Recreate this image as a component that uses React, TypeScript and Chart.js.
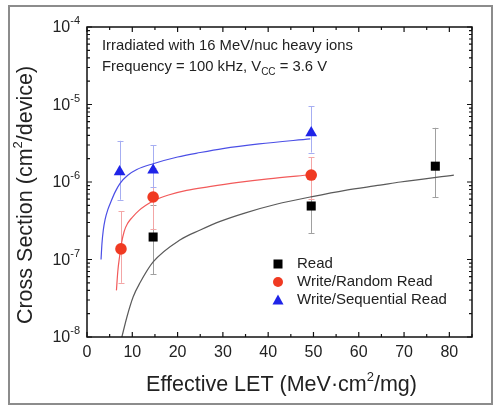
import React, { useEffect, useRef } from "react";
import { Chart, registerables } from "chart.js";

Chart.register(...registerables);

// ---- Data ----
const readX = [14.6, 49.5, 76.9];
const readY = [1.95e-7, 4.9e-7, 1.6e-6];
const readLow = [6.5e-8, 2.2e-7, 6.4e-7];
const readHigh = [5.0e-7, 1.1e-6, 5.0e-6];

const randX = [7.5, 14.6, 49.5];
const randY = [1.37e-7, 6.4e-7, 1.23e-6];
const randLow = [5.0e-8, 2.5e-7, 6.0e-7];
const randHigh = [4.2e-7, 1.5e-6, 2.1e-6];

const seqX = [7.2, 14.6, 49.5];
const seqY = [1.35e-6, 1.42e-6, 4.3e-6];
const seqLow = [5.9e-7, 8.7e-7, 2.4e-6];
const seqHigh = [3.4e-6, 3.0e-6, 9.5e-6];

// fitted curves
const seqFitX = [3.1, 3.3, 3.6, 4.0, 4.6, 5.3, 6.2, 7.3, 9, 11, 14.6, 20, 25, 30, 38, 49.3];
const seqFitY = [1.0e-7, 1.6e-7, 2.4e-7, 3.3e-7, 4.4e-7, 5.6e-7, 7.4e-7, 9.6e-7, 1.22e-6, 1.45e-6, 1.72e-6, 2.1e-6, 2.4e-6, 2.7e-6, 3.1e-6, 3.6e-6];

const randFitX = [6.5, 6.8, 7.2, 7.6, 8.2, 9.0, 10, 11.5, 13, 14.6, 18, 22, 27, 33, 40, 49.3];
const randFitY = [4.0e-8, 7.0e-8, 1.1e-7, 1.6e-7, 2.3e-7, 2.95e-7, 3.5e-7, 4.3e-7, 5.0e-7, 5.7e-7, 6.8e-7, 7.8e-7, 8.7e-7, 9.8e-7, 1.1e-6, 1.24e-6];

const readFitX = [7.7, 8.8, 10.2, 11.7, 14.6, 20.6, 25, 29.4, 35, 42, 49.3, 57, 64.7, 69.2, 81];
const readFitY = [1.0e-8, 1.8e-8, 3.3e-8, 5.0e-8, 9.3e-8, 1.8e-7, 2.4e-7, 3.1e-7, 4.0e-7, 5.2e-7, 6.4e-7, 7.8e-7, 9.1e-7, 1.0e-6, 1.23e-6];

const xTicks = [0, 10, 20, 30, 40, 50, 60, 70, 80];
const yTickExps = [-4, -5, -6, -7, -8];
const legendLabels = ["Read", "Write/Random Read", "Write/Sequential Read"];
const noteLine1 = "Irradiated with 16 MeV/nuc heavy ions";
const noteLine2a = "Frequency = 100 kHz, V";
const noteLine2sub = "CC";
const noteLine2b = " = 3.6 V";

const FONT = '"Liberation Sans", Arial, Helvetica, sans-serif';

const zip = (xs: number[], ys: number[]) => xs.map((x, i) => ({ x, y: ys[i] }));

const errorSets = [
  { xs: readX, lo: readLow, hi: readHigh, color: "#a0a0a0" },
  { xs: randX, lo: randLow, hi: randHigh, color: "#f3a6a6" },
  { xs: seqX, lo: seqLow, hi: seqHigh, color: "#a6aef2" },
];

function drawSeg(ctx: CanvasRenderingContext2D, parts: { t: string; size: number; dy: number }[], x: number, y: number, align: "left" | "center" | "right") {
  let total = 0;
  for (const p of parts) {
    ctx.font = `${p.size}px ${FONT}`;
    total += ctx.measureText(p.t).width;
  }
  let cx = align === "left" ? x : align === "center" ? x - total / 2 : x - total;
  ctx.textAlign = "left";
  for (const p of parts) {
    ctx.font = `${p.size}px ${FONT}`;
    ctx.fillText(p.t, cx, y + p.dy);
    cx += ctx.measureText(p.t).width;
  }
}

const customPlugin = {
  id: "custom",
  beforeDatasetsDraw(chart: any) {
    const ctx = chart.ctx as CanvasRenderingContext2D;
    const xs = chart.scales.x;
    const ys = chart.scales.y;
    ctx.save();
    ctx.lineWidth = 1;
    for (const s of errorSets) {
      ctx.strokeStyle = s.color;
      s.xs.forEach((xv, i) => {
        const px = Math.round(xs.getPixelForValue(xv)) + 0.5;
        const p1 = ys.getPixelForValue(s.lo[i]);
        const p2 = ys.getPixelForValue(s.hi[i]);
        ctx.beginPath();
        ctx.moveTo(px, p1);
        ctx.lineTo(px, p2);
        ctx.moveTo(px - 3, Math.round(p1) + 0.5);
        ctx.lineTo(px + 3, Math.round(p1) + 0.5);
        ctx.moveTo(px - 3, Math.round(p2) + 0.5);
        ctx.lineTo(px + 3, Math.round(p2) + 0.5);
        ctx.stroke();
      });
    }
    ctx.restore();
  },
  afterDraw(chart: any) {
    const ctx = chart.ctx as CanvasRenderingContext2D;
    const xs = chart.scales.x;
    const ys = chart.scales.y;
    const a = chart.chartArea;
    ctx.save();

    // outer grey frame
    ctx.strokeStyle = "#8c8c8c";
    ctx.lineWidth = 2;
    ctx.strokeRect(9, 6, 483, 398);

    // plot frame
    ctx.strokeStyle = "#111";
    ctx.lineWidth = 1.5;
    ctx.strokeRect(a.left, a.top, a.right - a.left, a.bottom - a.top);

    // ticks
    ctx.lineWidth = 1.2;
    ctx.beginPath();
    for (let v = 0; v <= 85; v += 5) {
      const px = xs.getPixelForValue(v);
      const len = v % 10 === 0 ? 5 : 3;
      ctx.moveTo(px, a.bottom);
      ctx.lineTo(px, a.bottom - len);
      ctx.moveTo(px, a.top);
      ctx.lineTo(px, a.top + len);
    }
    for (let d = -8; d <= -4; d++) {
      for (let k = 1; k <= 9; k++) {
        if (d === -4 && k > 1) break;
        const py = ys.getPixelForValue(k * Math.pow(10, d));
        const len = k === 1 ? 5 : 3;
        ctx.moveTo(a.left, py);
        ctx.lineTo(a.left + len, py);
        ctx.moveTo(a.right, py);
        ctx.lineTo(a.right - len, py);
      }
    }
    ctx.stroke();

    ctx.fillStyle = "#222";
    ctx.textBaseline = "middle";

    // x tick labels
    ctx.font = `16px ${FONT}`;
    ctx.textAlign = "center";
    for (const t of xTicks) {
      ctx.fillText(String(t), xs.getPixelForValue(t), a.bottom + 16);
    }

    // y tick labels 10^n
    for (const e of yTickExps) {
      const py = ys.getPixelForValue(Math.pow(10, e));
      drawSeg(ctx, [
        { t: "10", size: 16, dy: 1 },
        { t: String(e), size: 11, dy: -6 },
      ], a.left - 7, py, "right");
    }

    // x title
    drawSeg(ctx, [
      { t: "Effective LET (MeV\u00b7cm", size: 21.5, dy: 0 },
      { t: "2", size: 13, dy: -8 },
      { t: "/mg)", size: 21.5, dy: 0 },
    ], (a.left + a.right) / 2 + 2, 385, "center");

    // y title
    ctx.save();
    ctx.translate(26, 195);
    ctx.rotate(-Math.PI / 2);
    drawSeg(ctx, [
      { t: "Cross Section (cm", size: 21.5, dy: 0 },
      { t: "2", size: 13, dy: -8 },
      { t: "/device)", size: 21.5, dy: 0 },
    ], 0, 0, "center");
    ctx.restore();

    // annotation
    ctx.fillStyle = "#222";
    drawSeg(ctx, [{ t: noteLine1, size: 14.8, dy: 0 }], 102, 46, "left");
    drawSeg(ctx, [
      { t: noteLine2a, size: 14.8, dy: 0 },
      { t: noteLine2sub, size: 10, dy: 5 },
      { t: noteLine2b, size: 14.8, dy: 0 },
    ], 102, 67, "left");

    // legend
    const lx = 278;
    const rows = [264, 282, 300];
    ctx.fillStyle = "#000";
    ctx.fillRect(lx - 4.5, rows[0] - 4.5, 9, 9);
    ctx.fillStyle = "#f03a22";
    ctx.beginPath();
    ctx.arc(lx, rows[1], 5, 0, Math.PI * 2);
    ctx.fill();
    ctx.fillStyle = "#1f24e8";
    ctx.beginPath();
    ctx.moveTo(lx, rows[2] - 5.5);
    ctx.lineTo(lx + 5.5, rows[2] + 4.5);
    ctx.lineTo(lx - 5.5, rows[2] + 4.5);
    ctx.closePath();
    ctx.fill();
    ctx.fillStyle = "#222";
    legendLabels.forEach((l, i) => {
      drawSeg(ctx, [{ t: l, size: 15, dy: 0 }], 297, rows[i], "left");
    });

    ctx.restore();
  },
};

export default function App() {
  const ref = useRef<HTMLCanvasElement | null>(null);
  useEffect(() => {
    if (!ref.current) return;
    const chart = new Chart(ref.current, {
      type: "scatter",
      data: {
        datasets: [
          { label: "Read", data: zip(readX, readY), pointStyle: "rect", pointRadius: 6.4, backgroundColor: "#000", borderColor: "#000", borderWidth: 0, order: 0 },
          { label: "Write/Random Read", data: zip(randX, randY), pointStyle: "circle", pointRadius: 5.8, backgroundColor: "#f03a22", borderColor: "#f03a22", borderWidth: 0, order: 0 },
          { label: "Write/Sequential Read", data: zip(seqX, seqY), pointStyle: "triangle", pointRadius: 6.8, backgroundColor: "#1f24e8", borderColor: "#1f24e8", borderWidth: 0, order: 0 },
          { label: "fitRead", data: zip(readFitX, readFitY), showLine: true, pointRadius: 0, borderColor: "#5a5a5a", borderWidth: 1.2, cubicInterpolationMode: "monotone", order: 1 },
          { label: "fitRand", data: zip(randFitX, randFitY), showLine: true, pointRadius: 0, borderColor: "#f25a5a", borderWidth: 1.2, cubicInterpolationMode: "monotone", order: 1 },
          { label: "fitSeq", data: zip(seqFitX, seqFitY), showLine: true, pointRadius: 0, borderColor: "#4b4fe6", borderWidth: 1.2, cubicInterpolationMode: "monotone", order: 1 },
        ] as any,
      },
      options: {
        animation: false,
        responsive: false,
        maintainAspectRatio: false,
        layout: { padding: { left: 87, top: 27, right: 24, bottom: 72 } },
        plugins: { legend: { display: false }, tooltip: { enabled: false } },
        scales: {
          x: { type: "linear", min: 0, max: 85, display: false },
          y: { type: "logarithmic", min: 1e-8, max: 1e-4, display: false },
        },
      },
      plugins: [customPlugin],
    });
    return () => chart.destroy();
  }, []);
  return (
    <div style={{ position: "absolute", left: 0, top: 0, width: 496, height: 409, background: "#fff" }}>
      <canvas ref={ref} width={496} height={409} style={{ display: "block" }} />
    </div>
  );
}
